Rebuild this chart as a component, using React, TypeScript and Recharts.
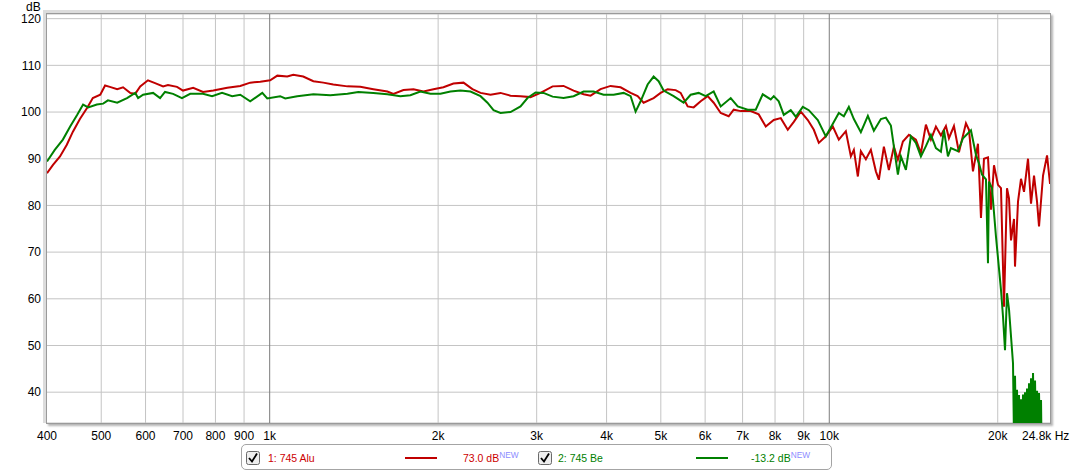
import React from 'react';
import { LineChart, Line, XAxis, YAxis, CartesianGrid, ReferenceLine } from 'recharts';

const xTicks = [400, 500, 600, 700, 800, 900, 1000, 2000, 3000, 4000, 5000, 6000, 7000, 8000, 9000, 10000, 20000, 24800];
const yTicks = [40, 50, 60, 70, 80, 90, 100, 110, 120];
const minorGrid = [500, 600, 700, 800, 900, 2000, 3000, 4000, 5000, 6000, 7000, 8000, 9000, 20000];
const majorGrid = [1000, 10000];

const aluFreq = [400, 410, 422, 434, 445, 458, 472, 483, 498, 508, 518, 534, 547, 563, 575, 587, 606, 624, 645, 658, 683, 700, 730, 760, 793, 840, 886, 923, 962, 1002, 1032, 1075, 1102, 1148, 1197, 1247, 1299, 1377, 1452, 1532, 1623, 1664, 1734, 1807, 1883, 1962, 2044, 2130, 2220, 2303, 2381, 2481, 2585, 2694, 2807, 2925, 3048, 3203, 3351, 3492, 3639, 3745, 3902, 4066, 4237, 4416, 4545, 4658, 4854, 4996, 5142, 5315, 5425, 5584, 5724, 5891, 6063, 6215, 6397, 6611, 6749, 6946, 7238, 7481, 7700, 7958, 8191, 8430, 8642, 8894, 9155, 9384, 9579, 9859, 10148, 10401, 10706, 10929, 11065, 11248, 11388, 11625, 11867, 12114, 12264, 12520, 12780, 13046, 13263, 13539, 13877, 14282, 14580, 14883, 15193, 15509, 15832, 16161, 16362, 16703, 17050, 17549, 17768, 18063, 18439, 18668, 18900, 19214, 19453, 19695, 20022, 20271, 20523, 20778, 20950, 21123, 21386, 21474, 21741, 22011, 22285, 22655, 22937, 23222, 23511, 23705, 24099, 24500, 24805];
const aluDb = [86.9, 88.7, 90.5, 93.0, 95.8, 98.5, 100.9, 103.0, 103.7, 105.7, 105.4, 104.9, 105.3, 104.1, 103.9, 105.5, 106.8, 106.2, 105.5, 105.8, 105.4, 104.6, 105.2, 104.3, 104.6, 105.2, 105.6, 106.3, 106.5, 106.8, 107.8, 107.6, 108.0, 107.6, 106.6, 106.3, 105.9, 105.5, 105.4, 104.9, 104.4, 103.9, 104.7, 104.9, 104.4, 104.9, 105.3, 106.1, 106.3, 104.9, 104.1, 103.7, 104.1, 103.5, 103.4, 103.2, 104.1, 105.5, 105.6, 104.6, 103.8, 103.5, 104.9, 105.6, 105.3, 104.1, 103.4, 102.0, 103.0, 104.1, 104.9, 104.7, 104.1, 101.2, 101.0, 102.3, 103.4, 102.0, 99.8, 99.1, 100.5, 100.2, 100.2, 99.5, 96.9, 98.3, 98.7, 96.2, 97.9, 100.1, 98.3, 96.2, 93.4, 94.8, 96.9, 94.1, 95.9, 90.5, 91.9, 86.2, 91.6, 89.9, 91.9, 87.3, 85.5, 92.6, 87.6, 92.6, 89.8, 93.7, 95.1, 94.1, 91.2, 97.3, 94.1, 96.9, 95.0, 97.0, 94.4, 97.0, 91.4, 97.6, 96.2, 87.3, 93.2, 77.3, 90.0, 90.3, 79.1, 88.6, 84.4, 83.7, 58.3, 83.7, 81.5, 72.5, 77.1, 66.9, 80.8, 85.7, 82.9, 90.0, 80.4, 86.4, 80.8, 75.5, 86.4, 90.7, 84.6];

const beFreq = [400, 413, 427, 440, 453, 464, 474, 491, 504, 514, 534, 556, 575, 582, 594, 619, 637, 650, 672, 697, 721, 760, 789, 822, 857, 886, 923, 970, 990, 1044, 1066, 1120, 1197, 1283, 1377, 1440, 1532, 1623, 1712, 1784, 1859, 1938, 2019, 2104, 2192, 2285, 2381, 2450, 2512, 2585, 2694, 2807, 2889, 2986, 3086, 3203, 3351, 3492, 3639, 3792, 3951, 4117, 4290, 4416, 4507, 4601, 4736, 4854, 4955, 5058, 5271, 5492, 5653, 5843, 6014, 6215, 6397, 6666, 6861, 7149, 7389, 7605, 7860, 7958, 8123, 8293, 8535, 8713, 8968, 9192, 9539, 9859, 10148, 10401, 10618, 10839, 11065, 11388, 11721, 12014, 12367, 12623, 12886, 13263, 13427, 13707, 13992, 14282, 14580, 14883, 15193, 15509, 15832, 16029, 16295, 16497, 16980, 17338, 17914, 18288, 18515, 18745, 19056, 19214, 19293, 19533, 19858, 20271, 20439, 20608, 20778, 20950, 21298, 21386, 21474, 21563, 21652, 21741, 21831, 21921, 22011, 22102, 22193, 22285, 22377, 22469, 22562, 22655, 22748, 22842, 22937, 23032, 23127, 23222, 23318, 23414, 23511, 23608, 23705, 23803, 23901, 23950];
const beDb = [89.4, 91.9, 94.1, 96.9, 99.4, 101.6, 101.0, 101.6, 101.8, 102.5, 102.0, 103.0, 104.1, 103.0, 103.7, 104.1, 103.0, 104.3, 103.9, 103.0, 103.9, 103.9, 103.4, 104.1, 103.4, 103.7, 102.3, 104.1, 102.9, 103.4, 102.9, 103.4, 103.8, 103.6, 103.9, 104.3, 104.1, 103.8, 103.4, 103.6, 104.4, 103.9, 103.9, 104.4, 104.6, 104.4, 103.4, 102.0, 100.4, 99.8, 100.0, 101.2, 103.0, 104.2, 104.1, 103.3, 103.0, 103.4, 104.4, 104.4, 103.7, 103.7, 104.1, 103.4, 100.1, 102.3, 105.9, 107.6, 106.6, 104.6, 103.4, 102.0, 103.7, 104.1, 103.4, 104.4, 101.2, 103.0, 101.2, 100.5, 100.5, 103.8, 102.7, 103.4, 102.3, 99.4, 100.4, 99.0, 101.1, 100.4, 98.3, 94.8, 97.5, 99.8, 99.1, 101.1, 98.5, 95.7, 99.2, 96.0, 98.5, 98.8, 97.1, 86.6, 90.5, 87.6, 94.8, 93.4, 90.5, 92.7, 95.1, 92.3, 91.5, 96.2, 90.5, 92.3, 91.6, 94.4, 96.1, 90.8, 89.0, 86.6, 85.6, 67.6, 85.1, 83.7, 73.3, 61.9, 56.2, 49.0, 61.2, 57.8, 46.2, 30, 43.5, 30, 40.5, 30, 39.4, 29, 38.5, 29, 39.5, 29, 40.0, 29, 40.8, 29, 41.9, 29, 43.0, 29, 44.1, 29, 42.5, 29, 40.3, 29, 39.8, 29, 38.3, 29];

const aluData = aluFreq.map((f, i) => ({ f, db: aluDb[i] }));
const beData = beFreq.map((f, i) => ({ f, db: beDb[i] }));

const FONT = '"Liberation Sans", Arial, sans-serif';
const RED = '#c00000';
const GREEN = '#008000';

const XTick = (props: any) => {
  const { x, y, payload } = props;
  const v = payload.value as number;
  if (v === 24800) {
    return (
      <text x={x - 28} y={y} dy="0.71em" textAnchor="start" fontSize={12} fontFamily={FONT} fill="#000">
        24.8k Hz
      </text>
    );
  }
  const label = v < 1000 ? String(v) : `${v / 1000}k`;
  return (
    <text x={x} y={y} dy="0.71em" textAnchor="middle" fontSize={12} fontFamily={FONT} fill="#000">
      {label}
    </text>
  );
};

const CheckBox = ({ left }: { left: number }) => (
  <svg style={{ position: 'absolute', left, top: 451 }} width={14} height={14}>
    <rect x={0.5} y={0.5} width={13} height={13} rx={2} fill="#eeeeee" stroke="#6a6a6a" />
    <path d="M3 7 L6 10.5 L11 2.5" stroke="#000" strokeWidth={1.8} fill="none" />
  </svg>
);

const txt = (left: number, color: string, content: string, newTag: boolean) => (
  <div
    style={{
      position: 'absolute',
      left,
      top: 451,
      height: 14,
      lineHeight: '14px',
      fontFamily: FONT,
      fontSize: 10.5,
      color,
      whiteSpace: 'nowrap',
    }}
  >
    {content}
    {newTag ? (
      <span style={{ fontSize: 8.3, color: '#8c8cff', position: 'relative', top: -4 }}>NEW</span>
    ) : null}
  </div>
);

export default function App() {
  return (
    <div style={{ position: 'absolute', left: 0, top: 0, width: 1072, height: 472, background: '#fff', overflow: 'hidden' }}>
      <LineChart width={1072} height={472} margin={{ top: 14, right: 22, bottom: 29, left: 0 }} style={{ overflow: 'visible' }}>
        <CartesianGrid vertical={false} stroke="#c4c4c4" />
        {minorGrid.map((g) => (
          <ReferenceLine key={g} x={g} stroke="#c4c4c4" strokeWidth={1} />
        ))}
        {majorGrid.map((g) => (
          <ReferenceLine key={g} x={g} stroke="#7c7c7c" strokeWidth={1} />
        ))}
        <XAxis
          dataKey="f"
          type="number"
          scale="log"
          domain={[400, 24800]}
          allowDataOverflow
          ticks={xTicks}
          interval={0}
          tick={<XTick />}
          tickLine={false}
          axisLine={false}
          tickSize={0}
          tickMargin={8}
          height={20}
        />
        <YAxis
          type="number"
          domain={[33.4, 121]}
          allowDataOverflow
          ticks={yTicks}
          interval={0}
          tick={{ fill: '#000', fontSize: 12, fontFamily: FONT }}
          tickLine={false}
          axisLine={false}
          tickSize={0}
          tickMargin={6}
          width={47}
        />
        <Line data={aluData} dataKey="db" stroke={RED} strokeWidth={2} dot={false} isAnimationActive={false} type="linear" />
        <Line data={beData} dataKey="db" stroke={GREEN} strokeWidth={2} dot={false} isAnimationActive={false} type="linear" />
      </LineChart>

      <div
        style={{
          position: 'absolute',
          left: 46,
          top: 13,
          width: 1005,
          height: 411,
          boxSizing: 'border-box',
          border: '1px solid #9a9a9a',
          boxShadow: '-2px -2px 0 1px #dcdcdc, 2px 2px 2px 0 #b4b4b4',
          pointerEvents: 'none',
        }}
      />

      <div style={{ position: 'absolute', left: 26, top: 1, fontFamily: FONT, fontSize: 12, lineHeight: '12px', color: '#000' }}>
        dB
      </div>

      <div
        style={{
          position: 'absolute',
          left: 241,
          top: 444,
          width: 591,
          height: 26,
          boxSizing: 'border-box',
          border: '1px solid #a4a4a4',
          borderRadius: 5,
          background: '#fff',
        }}
      />
      <CheckBox left={246} />
      {txt(268, '#cc0000', '1: 745 Alu', false)}
      <div style={{ position: 'absolute', left: 405, top: 457, width: 32, height: 2, background: RED }} />
      {txt(463, '#cc0000', '73.0 dB', true)}
      <CheckBox left={538} />
      {txt(558, GREEN, '2: 745 Be', false)}
      <div style={{ position: 'absolute', left: 696, top: 457, width: 32, height: 2, background: GREEN }} />
      {txt(751, GREEN, '-13.2 dB', true)}
    </div>
  );
}
